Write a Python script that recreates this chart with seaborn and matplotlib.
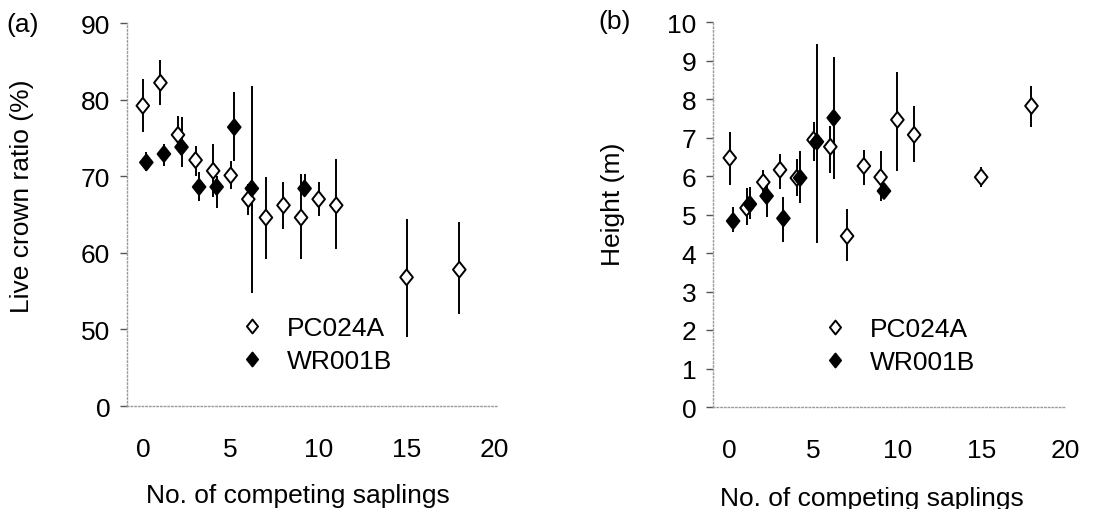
import numpy as np
import pandas as pd
import matplotlib
matplotlib.use("Agg")
import matplotlib.pyplot as plt
from matplotlib.path import Path
from matplotlib.lines import Line2D
import seaborn as sns

# number of competing saplings
x_pc = [0, 1, 2, 3, 4, 5, 6, 7, 8, 9, 10, 11, 15, 18]
x_wr = [0, 1, 2, 3, 4, 5, 6, 9]

# (a) live crown ratio (%) : mean, upper end, lower end of bar
crown_pc = [79.2, 82.2, 75.4, 72.1, 70.7, 70.1, 67.0, 64.6, 66.2, 64.6, 67.0, 66.2, 56.8, 57.8]
crown_pc_hi = [82.7, 85.2, 77.8, 73.9, 74.2, 72.0, 69.0, 69.9, 69.2, 70.3, 69.2, 72.2, 64.4, 64.0]
crown_pc_lo = [75.8, 79.3, 73.9, 70.0, 67.3, 68.3, 65.0, 59.2, 63.1, 59.2, 64.8, 60.5, 49.0, 52.0]
crown_wr = [71.8, 72.9, 73.8, 68.6, 68.6, 76.4, 68.4, 68.4]
crown_wr_hi = [73.1, 74.2, 77.7, 70.5, 70.0, 81.0, 81.8, 70.3]
crown_wr_lo = [70.7, 71.3, 71.2, 66.7, 65.9, 72.0, 54.8, 67.6]

# (b) height (m)
height_pc = [6.47, 5.17, 5.84, 6.16, 5.95, 6.94, 6.76, 4.44, 6.26, 5.97, 7.46, 7.07, 5.97, 7.82]
height_pc_hi = [7.15, 5.69, 6.16, 6.57, 6.44, 7.40, 7.30, 5.14, 6.68, 6.65, 8.70, 7.82, 6.23, 8.35]
height_pc_lo = [5.77, 4.72, 5.48, 5.66, 5.48, 6.39, 6.08, 3.79, 5.77, 5.35, 6.13, 6.36, 5.71, 7.28]
height_wr = [4.83, 5.27, 5.48, 4.90, 5.95, 6.89, 7.51, 5.61]
height_wr_hi = [5.19, 5.71, 5.92, 5.45, 6.65, 9.44, 9.10, 5.79]
height_wr_lo = [4.54, 4.88, 4.93, 4.28, 5.30, 4.26, 5.92, 5.40]

crown_ticks = [40, 50, 60, 70, 80, 90]
crown_ticklabels = ["0", "50", "60", "70", "80", "90"]
height_ticks = list(range(0, 11))
x_ticks = [0, 5, 10, 15, 20]

sns.set_theme(style="white")
plt.rcParams['font.family'] = ['Liberation Sans', 'DejaVu Sans']
plt.rcParams.update({"text.color": "black", "axes.labelcolor": "black",
                     "xtick.labelcolor": "black", "ytick.labelcolor": "black"})
FS = 19

diamond = Path([(0, 1), (0.8, 0), (0, -1), (-0.8, 0), (0, 1)],
               [Path.MOVETO, Path.LINETO, Path.LINETO, Path.LINETO, Path.CLOSEPOLY])
palette = {"PC024A": "white", "WR001B": "black"}
dodge = {"PC024A": 0.0, "WR001B": 0.2}


def frame(x, y, hi, lo, clone):
    df = pd.DataFrame({"x": x, "y": y, "hi": hi, "lo": lo})
    df["clone"] = clone
    df["xp"] = df["x"] + dodge[clone]
    return df


def panel(ax, df, leg_x):
    for clone, d in df.groupby("clone"):
        ax.errorbar(d["xp"], d["y"], yerr=[d["y"] - d["lo"], d["hi"] - d["y"]],
                    fmt="none", ecolor="black", elinewidth=1.4, capsize=0, zorder=2)
    sns.scatterplot(data=df, x="xp", y="y", hue="clone", palette=palette,
                    marker=diamond, s=130, edgecolor="black", linewidth=1.4,
                    legend=False, zorder=3, ax=ax)
    for sp in ["top", "right"]:
        ax.spines[sp].set_visible(False)
    for sp in ["left", "bottom"]:
        ax.spines[sp].set_color("#9a9a9a")
        ax.spines[sp].set_linestyle(":")
        ax.spines[sp].set_linewidth(1.0)
    ax.set_xticks(x_ticks)
    ax.tick_params(axis="x", length=0, pad=22, labelsize=FS)
    ax.tick_params(axis="y", length=5, width=1, color="#555555", pad=7, labelsize=FS, left=True)
    handles = [Line2D([], [], ls="none", marker=diamond, ms=10, mfc=palette[k], mec="black", mew=1.4)
               for k in ["PC024A", "WR001B"]]
    ax.legend(handles, ["PC024A", "WR001B"], loc="center left", bbox_to_anchor=(leg_x, 0.16),
              frameon=False, fontsize=FS, handletextpad=0.7, labelspacing=0.35,
              borderpad=0, handlelength=1.2)
    ax.set_xlabel("No. of competing saplings", fontsize=FS)


fig = plt.figure(figsize=(11.12, 5.10), dpi=100)
ax1 = fig.add_axes([127 / 1112, 1 - 407 / 510, 371 / 1112, 383 / 510])
ax2 = fig.add_axes([713 / 1112, 1 - 408 / 510, 352 / 1112, 385 / 510])

df1 = pd.concat([frame(x_pc, crown_pc, crown_pc_hi, crown_pc_lo, "PC024A"),
                 frame(x_wr, crown_wr, crown_wr_hi, crown_wr_lo, "WR001B")])
df2 = pd.concat([frame(x_pc, height_pc, height_pc_hi, height_pc_lo, "PC024A"),
                 frame(x_wr, height_wr, height_wr_hi, height_wr_lo, "WR001B")])

panel(ax1, df1, 0.26)
ax1.set_xlim(-0.9, 20.2)
ax1.set_ylim(40, 90)
ax1.set_yticks(crown_ticks)
ax1.set_yticklabels(crown_ticklabels)
ax1.set_ylabel("Live crown ratio (%)", fontsize=FS)
ax1.yaxis.set_label_coords(-0.25, 0.55)
ax1.xaxis.set_label_coords(0.46, -0.20)

panel(ax2, df2, 0.265)
ax2.set_xlim(-1.0, 20.0)
ax2.set_ylim(0, 10)
ax2.set_yticks(height_ticks)
ax2.set_ylabel("Height (m)", fontsize=FS)
ax2.yaxis.set_label_coords(-0.25, 0.53)
ax2.xaxis.set_label_coords(0.45, -0.205)

fig.text(23 / 1112, 1 - 25 / 510, "(a)", fontsize=FS, ha="center", va="center")
fig.text(615 / 1112, 1 - 22 / 510, "(b)", fontsize=FS, ha="center", va="center")

fig.savefig("out.png", dpi=100)
